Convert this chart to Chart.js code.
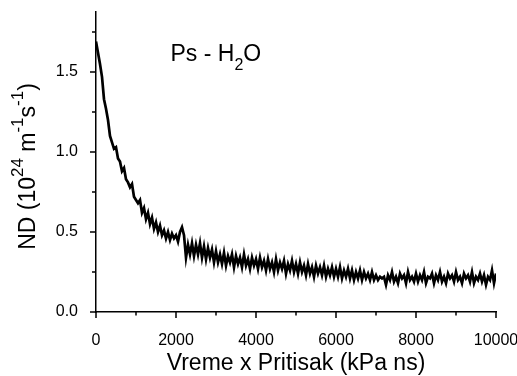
<!DOCTYPE html>
<html>
<head>
<meta charset="utf-8">
<script src="https://cdn.jsdelivr.net/npm/chart.js@4"></script>
<style>
  body { margin: 0; background: #fff; }
  #wrap { width: 517px; height: 376px; }
</style>
</head>
<body>
<div id="wrap"><canvas id="ndChart" width="517" height="376"></canvas></div>
<script>
// time x pressure (kPa ns)
const times = [
  0, 50, 100, 150, 200, 250, 300, 350, 400, 450, 500, 550, 600, 650, 700, 750, 800, 850, 900, 950,
  1000, 1050, 1100, 1150, 1200, 1250, 1300, 1350, 1400, 1450, 1500, 1550, 1600, 1650, 1700, 1750, 1800, 1850, 1900, 1950,
  2000, 2050, 2100, 2150, 2200, 2250, 2300, 2350, 2400, 2450, 2500, 2550, 2600, 2650, 2700, 2750, 2800, 2850, 2900, 2950,
  3000, 3050, 3100, 3150, 3200, 3250, 3300, 3350, 3400, 3450, 3500, 3550, 3600, 3650, 3700, 3750, 3800, 3850, 3900, 3950,
  4000, 4050, 4100, 4150, 4200, 4250, 4300, 4350, 4400, 4450, 4500, 4550, 4600, 4650, 4700, 4750, 4800, 4850, 4900, 4950,
  5000, 5050, 5100, 5150, 5200, 5250, 5300, 5350, 5400, 5450, 5500, 5550, 5600, 5650, 5700, 5750, 5800, 5850, 5900, 5950,
  6000, 6050, 6100, 6150, 6200, 6250, 6300, 6350, 6400, 6450, 6500, 6550, 6600, 6650, 6700, 6750, 6800, 6850, 6900, 6950,
  7000, 7050, 7100, 7150, 7200, 7250, 7300, 7350, 7400, 7450, 7500, 7550, 7600, 7650, 7700, 7750, 7800, 7850, 7900, 7950,
  8000, 8050, 8100, 8150, 8200, 8250, 8300, 8350, 8400, 8450, 8500, 8550, 8600, 8650, 8700, 8750, 8800, 8850, 8900, 8950,
  9000, 9050, 9100, 9150, 9200, 9250, 9300, 9350, 9400, 9450, 9500, 9550, 9600, 9650, 9700, 9750, 9800, 9850, 9900, 9950,
  10000
];

// ND (10^24 m^-1 s^-1)
const ndValues = [
  1.69, 1.62, 1.55, 1.47, 1.33, 1.27, 1.20, 1.10, 1.06, 1.02, 1.03, 0.96, 0.94, 0.88, 0.90, 0.83, 0.81, 0.78, 0.80, 0.72,
  0.70, 0.68, 0.70, 0.62, 0.65, 0.58, 0.62, 0.55, 0.59, 0.52, 0.56, 0.50, 0.54, 0.48, 0.51, 0.46, 0.50, 0.45, 0.49, 0.46,
  0.48, 0.44, 0.50, 0.53, 0.48, 0.34, 0.42, 0.36, 0.43, 0.35, 0.42, 0.36, 0.43, 0.34, 0.41, 0.33, 0.40, 0.34, 0.39, 0.31,
  0.38, 0.31, 0.36, 0.30, 0.37, 0.29, 0.35, 0.31, 0.36, 0.28, 0.35, 0.30, 0.34, 0.28, 0.36, 0.29, 0.33, 0.27, 0.34, 0.29,
  0.33, 0.27, 0.34, 0.28, 0.32, 0.26, 0.33, 0.27, 0.31, 0.25, 0.33, 0.26, 0.31, 0.27, 0.32, 0.24, 0.30, 0.26, 0.32, 0.25,
  0.30, 0.24, 0.31, 0.25, 0.29, 0.23, 0.30, 0.24, 0.28, 0.22, 0.29, 0.24, 0.28, 0.23, 0.29, 0.22, 0.27, 0.23, 0.28, 0.22,
  0.27, 0.22, 0.28, 0.21, 0.26, 0.22, 0.27, 0.21, 0.26, 0.20, 0.25, 0.21, 0.26, 0.20, 0.25, 0.21, 0.24, 0.20, 0.25, 0.20,
  0.23, 0.20, 0.22, 0.21, 0.22, 0.17, 0.23, 0.20, 0.25, 0.19, 0.22, 0.18, 0.24, 0.21, 0.23, 0.18, 0.25, 0.20, 0.22, 0.19,
  0.24, 0.19, 0.23, 0.20, 0.25, 0.18, 0.22, 0.21, 0.24, 0.18, 0.23, 0.20, 0.25, 0.19, 0.22, 0.18, 0.24, 0.21, 0.23, 0.19,
  0.25, 0.20, 0.22, 0.18, 0.24, 0.21, 0.23, 0.19, 0.25, 0.18, 0.22, 0.20, 0.24, 0.19, 0.23, 0.17, 0.22, 0.20, 0.26, 0.18,
  0.24
];

const xTicks = [0, 2000, 4000, 6000, 8000, 10000];
const xMinorTicks = [1000, 3000, 5000, 7000, 9000];
const yTicks = [0.0, 0.5, 1.0, 1.5];
const yMinorTicks = [0.25, 0.75, 1.25, 1.75];

const FONT = '"Liberation Sans", Arial, sans-serif';

// draws text with super/subscript pieces, starting at x along the baseline
function drawRich(ctx, parts, x, y, size, smallSize) {
  let cx = x;
  parts.forEach(p => {
    ctx.font = (p.shift ? smallSize : size) + 'px ' + FONT;
    ctx.fillText(p.t, cx, y + (p.shift || 0));
    cx += ctx.measureText(p.t).width;
  });
}

function richWidth(ctx, parts, size, smallSize) {
  let w = 0;
  parts.forEach(p => {
    ctx.font = (p.shift ? smallSize : size) + 'px ' + FONT;
    w += ctx.measureText(p.t).width;
  });
  return w;
}

const decor = {
  id: 'decor',
  afterDraw(chart) {
    const ctx = chart.ctx;
    const xs = chart.scales.x;
    const ys = chart.scales.y;
    const axisY = ys.bottom;
    const axisX = xs.left;
    ctx.save();
    ctx.strokeStyle = '#000';
    ctx.lineWidth = 1.5;
    ctx.beginPath();
    xTicks.forEach(v => { const p = xs.getPixelForValue(v); ctx.moveTo(p, axisY); ctx.lineTo(p, axisY + 6); });
    xMinorTicks.forEach(v => { const p = xs.getPixelForValue(v); ctx.moveTo(p, axisY); ctx.lineTo(p, axisY + 3.5); });
    yTicks.forEach(v => { const p = ys.getPixelForValue(v); ctx.moveTo(axisX, p); ctx.lineTo(axisX - 6, p); });
    yMinorTicks.forEach(v => { const p = ys.getPixelForValue(v); ctx.moveTo(axisX, p); ctx.lineTo(axisX - 4, p); });
    ctx.stroke();

    ctx.fillStyle = '#000';
    ctx.textBaseline = 'alphabetic';

    // x title
    ctx.textAlign = 'center';
    ctx.font = '23px ' + FONT;
    ctx.fillText('Vreme x Pritisak (kPa ns)', (xs.left + xs.right) / 2, 370);

    ctx.textAlign = 'left';
    // y title, rotated
    const yParts = [
      { t: 'ND (10' }, { t: '24', shift: -12 }, { t: ' m' }, { t: '-1', shift: -12 },
      { t: 's' }, { t: '-1', shift: -12 }, { t: ')' }
    ];
    const w = richWidth(ctx, yParts, 23, 17);
    ctx.save();
    ctx.translate(35, 166.5);
    ctx.rotate(-Math.PI / 2);
    drawRich(ctx, yParts, -w / 2, 0, 23, 17);
    ctx.restore();

    // label in plot
    drawRich(ctx, [{ t: 'Ps - H' }, { t: '2', shift: 9 }, { t: 'O' }], 170.5, 60.5, 23, 16);
    ctx.restore();
  }
};

const points = times.map((t, i) => ({ x: t, y: ndValues[i] }));

new Chart(document.getElementById('ndChart'), {
  type: 'line',
  data: {
    datasets: [{
      data: points,
      borderColor: '#000',
      borderWidth: 2.7,
      pointRadius: 0,
      tension: 0,
      fill: false
    }]
  },
  options: {
    responsive: false,
    animation: false,
    devicePixelRatio: 1,
    layout: { padding: { top: 12, right: 21, left: 0, bottom: 0 } },
    plugins: { legend: { display: false }, tooltip: { enabled: false } },
    scales: {
      x: {
        type: 'linear',
        min: 0,
        max: 10000,
        grid: { display: false },
        border: { display: true, color: '#000', width: 1.5 },
        ticks: {
          color: '#000',
          font: { family: FONT, size: 16 },
          padding: 11,
          maxRotation: 0,
          autoSkip: false,
          callback: v => String(v)
        },
        afterBuildTicks: s => { s.ticks = xTicks.map(v => ({ value: v })); },
        afterFit: s => { s.height = 64; s.paddingLeft = 0; s.paddingRight = 0; }
      },
      y: {
        type: 'linear',
        min: 0,
        max: 1.875,
        grid: { display: false },
        border: { display: true, color: '#000', width: 1.5 },
        ticks: {
          color: '#000',
          font: { family: FONT, size: 16 },
          padding: 10,
          autoSkip: false,
          callback: v => Number(v).toFixed(1)
        },
        afterBuildTicks: s => { s.ticks = yTicks.map(v => ({ value: v })); },
        afterFit: s => { s.width = 96; s.paddingTop = 0; s.paddingBottom = 0; }
      }
    }
  },
  plugins: [decor]
});
</script>
</body>
</html>
